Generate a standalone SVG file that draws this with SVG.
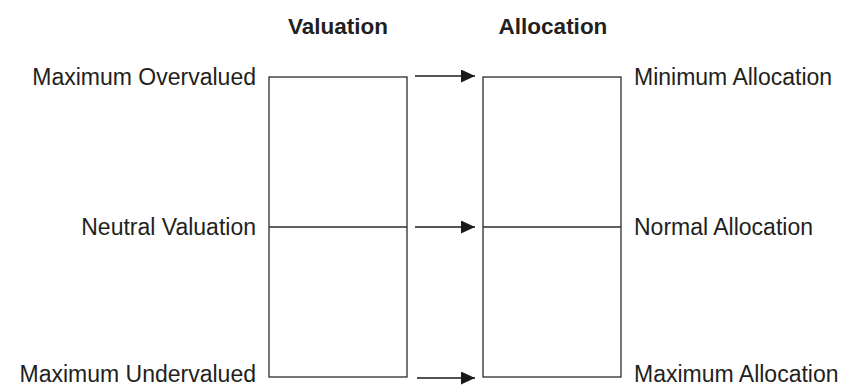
<svg xmlns="http://www.w3.org/2000/svg" width="849" height="387" viewBox="0 0 849 387">
<style>
.box{fill:none;stroke:#2b2b2b;stroke-width:1.3}
.conn{stroke:#1a1a1a;stroke-width:1.3;fill:none}
.lbl{font-family:"Liberation Sans",Arial,sans-serif;font-size:23px;fill:#231f20}
.hdr{font-family:"Liberation Sans",Arial,sans-serif;font-size:22.5px;font-weight:bold;fill:#231f20}
</style>
<defs>
<marker id="ah" markerWidth="14" markerHeight="13" refX="14" refY="6.5" orient="auto" markerUnits="userSpaceOnUse">
<path d="M0,0 L14,6.5 L0,13 Z" fill="#1a1a1a"/>
</marker>
</defs>
<rect width="849" height="387" fill="#fff"/>
<g id="headers">
<text class="hdr" x="338" y="34" text-anchor="middle">Valuation</text>
<text class="hdr" x="553" y="34" text-anchor="middle">Allocation</text>
</g>
<g id="valuation">
<rect class="box" x="269" y="77" width="138" height="300"/>
<line class="box" x1="269" y1="227" x2="407" y2="227"/>
<text class="lbl" x="256" y="85" text-anchor="end">Maximum Overvalued</text>
<text class="lbl" x="256" y="235" text-anchor="end">Neutral Valuation</text>
<text class="lbl" x="256" y="382" text-anchor="end">Maximum Undervalued</text>
</g>
<g id="allocation">
<rect class="box" x="483" y="77" width="138" height="300"/>
<line class="box" x1="483" y1="227" x2="621" y2="227"/>
<text class="lbl" x="634" y="85">Minimum Allocation</text>
<text class="lbl" x="634" y="235">Normal Allocation</text>
<text class="lbl" x="634" y="382">Maximum Allocation</text>
</g>
<g id="connectors">
<line class="conn" x1="415" y1="76" x2="475" y2="76" marker-end="url(#ah)"/>
<line class="conn" x1="415" y1="227" x2="475" y2="227" marker-end="url(#ah)"/>
<line class="conn" x1="417" y1="378" x2="475" y2="378" marker-end="url(#ah)"/>
</g>
</svg>
